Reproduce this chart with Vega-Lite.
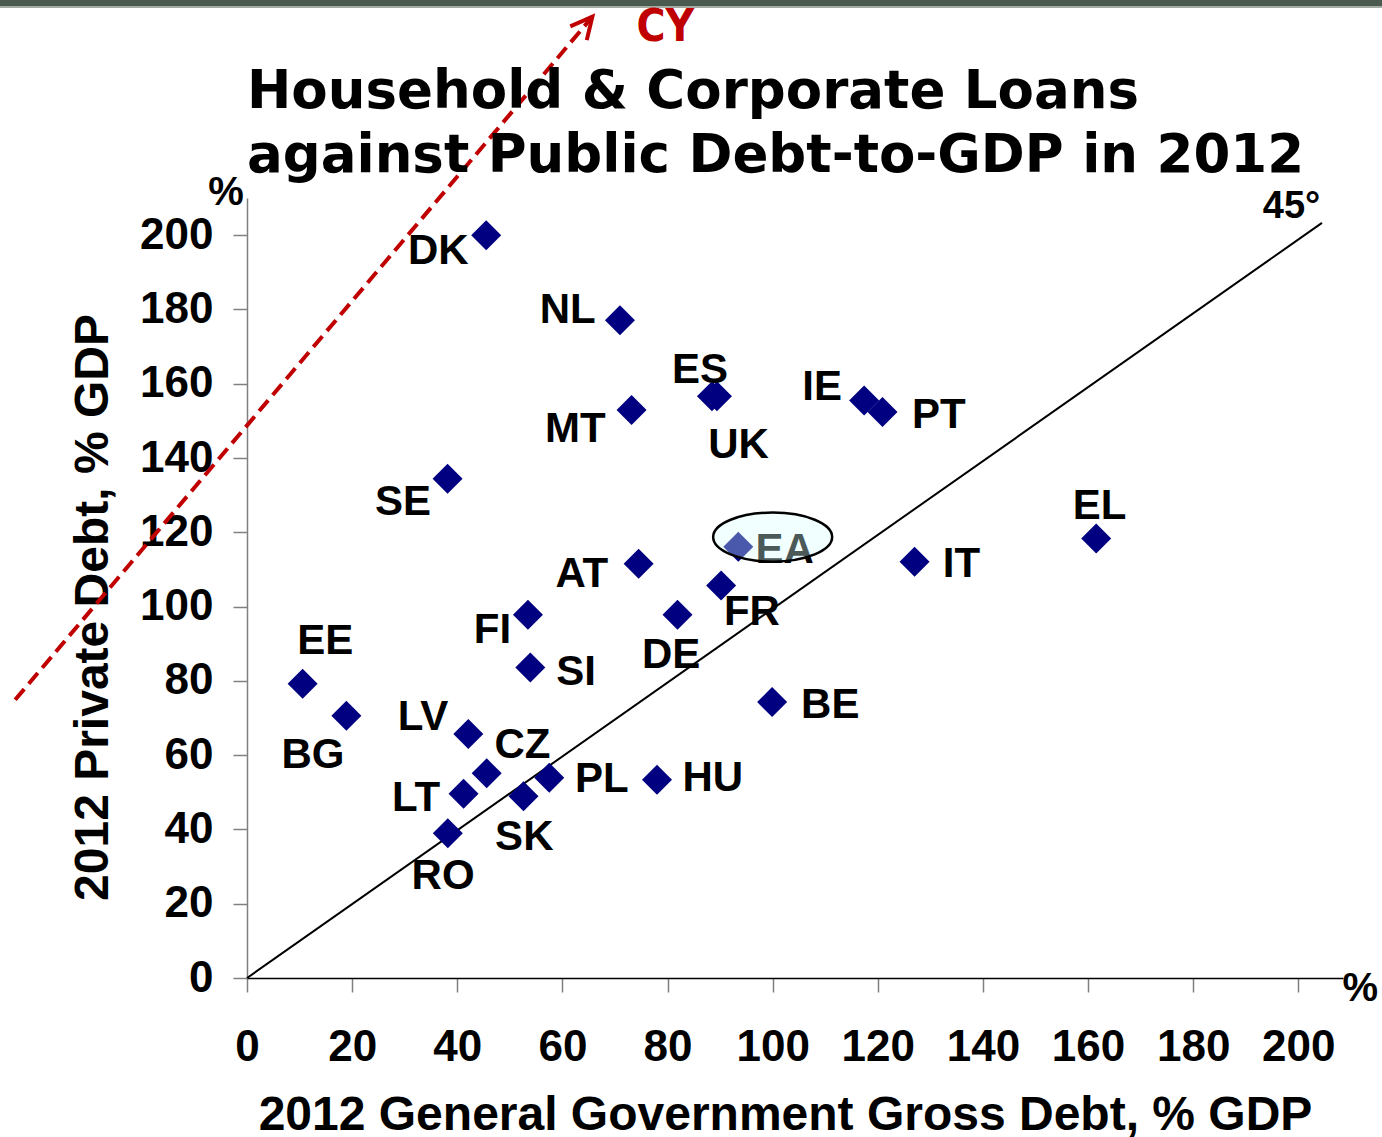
{
  "$schema": "https://vega.github.io/schema/vega-lite/v6.json",
  "width": 1096,
  "height": 780,
  "autosize": {"type": "none"},
  "padding": {"left": 247, "top": 198, "right": 39, "bottom": 159},
  "background": "white",
  "title": {
    "text": ["Household & Corporate Loans", "against Public Debt-to-GDP in 2012"],
    "anchor": "start",
    "frame": "group",
    "font": "DejaVu Sans",
    "fontSize": 53,
    "fontWeight": "bold",
    "color": "black",
    "lineHeight": 64,
    "offset": -184
  },
  "config": {
    "view": {"stroke": null},
    "axis": {
      "grid": false,
      "labelFont": "Liberation Sans",
      "labelFontSize": 44,
      "labelFontWeight": "bold",
      "labelColor": "black",
      "labelFlush": false,
      "labelOverlap": false,
      "titleFont": "Liberation Sans",
      "titleFontSize": 48,
      "titleFontWeight": "bold",
      "titleColor": "black",
      "tickColor": "#808080",
      "tickWidth": 1.5,
      "tickSize": 14,
      "domainWidth": 1.5
    }
  },
  "datasets": {
    "countries": [
      {"c": "DK", "x": 45.5, "y": 200.0, "lx": 36.4, "ly": 196.4},
      {"c": "NL", "x": 70.95, "y": 177.1, "lx": 61.0, "ly": 180.4},
      {"c": "ES", "x": 88.45, "y": 156.6, "lx": 86.2, "ly": 164.2},
      {"c": "UK", "x": 89.4, "y": 156.6, "lx": 93.5, "ly": 144.05},
      {"c": "MT", "x": 73.16, "y": 152.9, "lx": 62.45, "ly": 148.25},
      {"c": "IE", "x": 117.4, "y": 155.5, "lx": 109.4, "ly": 159.7},
      {"c": "PT", "x": 120.9, "y": 152.4, "lx": 131.6, "ly": 152.1},
      {"c": "SE", "x": 38.16, "y": 134.4, "lx": 29.7, "ly": 128.8},
      {"c": "EA", "x": 93.46, "y": 116.1, "lx": 102.3, "ly": 115.9},
      {"c": "AT", "x": 74.5, "y": 111.5, "lx": 63.7, "ly": 109.2},
      {"c": "EL", "x": 161.55, "y": 118.3, "lx": 162.2, "ly": 127.7},
      {"c": "IT", "x": 127.0, "y": 112.1, "lx": 135.9, "ly": 112.0},
      {"c": "FR", "x": 90.2, "y": 105.7, "lx": 96.06, "ly": 99.2},
      {"c": "FI", "x": 53.45, "y": 97.8, "lx": 46.7, "ly": 94.2},
      {"c": "DE", "x": 81.9, "y": 97.8, "lx": 80.7, "ly": 87.5},
      {"c": "SI", "x": 53.9, "y": 83.6, "lx": 62.6, "ly": 82.8},
      {"c": "EE", "x": 10.58, "y": 79.2, "lx": 14.9, "ly": 91.3},
      {"c": "BG", "x": 18.9, "y": 70.6, "lx": 12.55, "ly": 60.7},
      {"c": "BE", "x": 99.9, "y": 74.3, "lx": 110.96, "ly": 74.0},
      {"c": "LV", "x": 42.1, "y": 65.7, "lx": 33.5, "ly": 70.7},
      {"c": "CZ", "x": 45.6, "y": 55.1, "lx": 52.4, "ly": 63.3},
      {"c": "PL", "x": 57.5, "y": 53.9, "lx": 67.5, "ly": 54.1},
      {"c": "HU", "x": 78.0, "y": 53.4, "lx": 88.6, "ly": 54.3},
      {"c": "LT", "x": 41.2, "y": 49.6, "lx": 32.15, "ly": 48.9},
      {"c": "SK", "x": 52.6, "y": 48.9, "lx": 52.75, "ly": 38.6},
      {"c": "RO", "x": 38.2, "y": 39.0, "lx": 37.3, "ly": 28.1}
    ],
    "bars": [
      {"x": -47, "x2": 216, "y": 262.6}
    ],
    "bars2": [
      {"x": -47, "x2": 216, "y": 261.4}
    ],
    "diag": [
      {"x": 0, "y": 0, "x2": 204.5, "y2": 203.3}
    ],
    "cyline": [
      {"x": -44.1, "y": 74.9, "x2": 65.7, "y2": 258.8}
    ],
    "cyhead": [
      {"x": 65.7, "y": 258.8}
    ],
    "ellipse": [
      {"x": 100.0, "y": 118.7}
    ],
    "notes": [
      {"t": "%", "x": -4.0, "y": 211.8},
      {"t": "%", "x": 211.8, "y": -2.3}
    ],
    "deg": [
      {"t": "45°", "x": 198.7, "y": 208.2}
    ],
    "cy": [
      {"t": "CY", "x": 79.6, "y": 256.4}
    ]
  },
  "layer": [
    {
      "data": {"name": "diag"},
      "mark": {"type": "rule", "color": "black", "strokeWidth": 2},
      "encoding": {
        "x": {
          "field": "x", "type": "quantitative",
          "scale": {"domain": [0, 208.5], "nice": false, "zero": false},
          "title": "2012 General Government Gross Debt, % GDP",
          "axis": {
            "values": [0, 20, 40, 60, 80, 100, 120, 140, 160, 180, 200],
            "domainColor": "black",
            "labelPadding": 33,
            "labelBaseline": "top",
            "titleX": 538,
            "titleY": 151,
            "titleBaseline": "alphabetic",
            "titleAlign": "center",
            "titleAnchor": null
          }
        },
        "y": {
          "field": "y", "type": "quantitative",
          "scale": {"domain": [0, 210], "nice": false, "zero": false},
          "title": "2012 Private Debt, % GDP",
          "axis": {
            "values": [0, 20, 40, 60, 80, 100, 120, 140, 160, 180, 200],
            "domainColor": "#808080",
            "labelPadding": 20,
            "titleX": -140,
            "titleY": 409,
            "titleAngle": 270,
            "titleBaseline": "alphabetic",
            "titleAlign": "center",
            "titleAnchor": null
          }
        },
        "x2": {"field": "x2"},
        "y2": {"field": "y2"}
      }
    },
    {
      "data": {"name": "bars"},
      "mark": {"type": "rule", "color": "#4a5a4e", "strokeWidth": 7},
      "encoding": {
        "x": {"field": "x", "type": "quantitative", "title": "2012 General Government Gross Debt, % GDP"},
        "x2": {"field": "x2"},
        "y": {"field": "y", "type": "quantitative", "title": "2012 Private Debt, % GDP"}
      }
    },
    {
      "data": {"name": "bars2"},
      "mark": {"type": "rule", "color": "#a3ada5", "strokeWidth": 2},
      "encoding": {
        "x": {"field": "x", "type": "quantitative", "title": "2012 General Government Gross Debt, % GDP"},
        "x2": {"field": "x2"},
        "y": {"field": "y", "type": "quantitative", "title": "2012 Private Debt, % GDP"}
      }
    },
    {
      "data": {"name": "cyline"},
      "mark": {"type": "rule", "color": "#c00000", "strokeWidth": 4, "strokeDash": [14, 7]},
      "encoding": {
        "x": {"field": "x", "type": "quantitative", "title": "2012 General Government Gross Debt, % GDP"},
        "y": {"field": "y", "type": "quantitative", "title": "2012 Private Debt, % GDP"},
        "x2": {"field": "x2"},
        "y2": {"field": "y2"}
      }
    },
    {
      "data": {"name": "cyhead"},
      "mark": {"type": "point", "shape": "M -0.5 1 L 0 0 L 0.5 1", "filled": false, "stroke": "#c00000", "strokeWidth": 4, "size": 1850, "angle": 40, "opacity": 1},
      "encoding": {
        "x": {"field": "x", "type": "quantitative", "title": "2012 General Government Gross Debt, % GDP"},
        "y": {"field": "y", "type": "quantitative", "title": "2012 Private Debt, % GDP"}
      }
    },
    {
      "data": {"name": "countries"},
      "mark": {"type": "point", "shape": "diamond", "filled": true, "color": "#000080", "size": 900, "opacity": 1, "strokeWidth": 0},
      "encoding": {
        "x": {"field": "x", "type": "quantitative", "title": "2012 General Government Gross Debt, % GDP"},
        "y": {"field": "y", "type": "quantitative", "title": "2012 Private Debt, % GDP"}
      }
    },
    {
      "data": {"name": "countries"},
      "mark": {"type": "text", "font": "Liberation Sans", "fontSize": 42, "fontWeight": "bold", "color": "black", "align": "center", "baseline": "middle", "dy": 2},
      "encoding": {
        "x": {"field": "lx", "type": "quantitative", "title": "2012 General Government Gross Debt, % GDP"},
        "y": {"field": "ly", "type": "quantitative", "title": "2012 Private Debt, % GDP"},
        "text": {"field": "c"}
      }
    },
    {
      "data": {"name": "ellipse"},
      "mark": {"type": "point", "shape": "M -1 0 A 1 0.412 0 1 0 1 0 A 1 0.412 0 1 0 -1 0 Z", "filled": true, "fill": "#d8ffff", "fillOpacity": 0.35, "stroke": "black", "strokeWidth": 2.5, "strokeOpacity": 1, "size": 14161, "opacity": 1},
      "encoding": {
        "x": {"field": "x", "type": "quantitative", "title": "2012 General Government Gross Debt, % GDP"},
        "y": {"field": "y", "type": "quantitative", "title": "2012 Private Debt, % GDP"}
      }
    },
    {
      "data": {"name": "notes"},
      "mark": {"type": "text", "font": "Liberation Sans", "fontSize": 40, "fontWeight": "bold", "color": "black", "align": "center", "baseline": "middle", "dy": 2},
      "encoding": {
        "x": {"field": "x", "type": "quantitative", "title": "2012 General Government Gross Debt, % GDP"},
        "y": {"field": "y", "type": "quantitative", "title": "2012 Private Debt, % GDP"},
        "text": {"field": "t"}
      }
    },
    {
      "data": {"name": "deg"},
      "mark": {"type": "text", "font": "Liberation Sans", "fontSize": 38, "fontWeight": "bold", "color": "black", "align": "center", "baseline": "middle", "dy": 2},
      "encoding": {
        "x": {"field": "x", "type": "quantitative", "title": "2012 General Government Gross Debt, % GDP"},
        "y": {"field": "y", "type": "quantitative", "title": "2012 Private Debt, % GDP"},
        "text": {"field": "t"}
      }
    },
    {
      "data": {"name": "cy"},
      "mark": {"type": "text", "font": "Liberation Sans Narrow, DejaVu Sans Condensed, Liberation Sans", "fontSize": 44, "fontWeight": "bold", "color": "#c00000", "align": "center", "baseline": "middle", "dy": 2},
      "encoding": {
        "x": {"field": "x", "type": "quantitative", "title": "2012 General Government Gross Debt, % GDP"},
        "y": {"field": "y", "type": "quantitative", "title": "2012 Private Debt, % GDP"},
        "text": {"field": "t"}
      }
    }
  ]
}
